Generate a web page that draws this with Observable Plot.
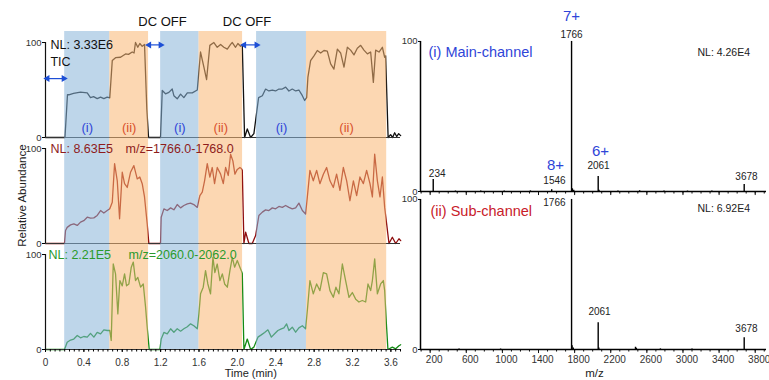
<!DOCTYPE html>
<html><head><meta charset="utf-8">
<script src="https://cdn.jsdelivr.net/npm/d3@7"></script>
<script src="https://cdn.jsdelivr.net/npm/@observablehq/plot@0.6"></script>
<style>
body{margin:0;background:#fff;font-family:"Liberation Sans",Arial,sans-serif;}
#wrap{position:relative;width:769px;height:380px;overflow:hidden;}
#left{position:absolute;left:0;top:0;}
#right{position:absolute;left:400px;top:0;}
</style></head>
<body><div id="wrap"><div id="left"></div><div id="right"></div></div>
<script>
// ---- chromatograms (time in min, relative abundance %) ----
const ticTime = [0,0.203,0.229,0.243,0.292,0.365,0.435,0.469,0.501,0.539,
 0.574,0.608,0.643,0.670,0.696,0.730,0.782,0.834,0.865,0.904,
 0.923,0.938,0.962,0.983,1.008,1.032,1.056,1.074,1.095,1.178,
 1.199,1.217,1.251,1.286,1.321,1.338,1.373,1.408,1.442,1.478,
 1.530,1.582,1.616,1.651,1.679,1.713,1.755,1.790,1.825,1.859,
 1.895,1.929,1.947,1.981,2.005,2.033,2.051,2.075,2.103,2.138,
 2.172,2.221,2.260,2.294,2.328,2.364,2.398,2.433,2.468,2.503,
 2.537,2.572,2.607,2.641,2.677,2.701,2.722,2.735,2.763,2.798,
 2.833,2.868,2.902,2.937,2.972,3.006,3.042,3.076,3.111,3.146,
 3.180,3.215,3.250,3.285,3.319,3.355,3.389,3.417,3.441,3.476,
 3.511,3.535,3.545,3.571,3.597,3.618,3.639,3.660,3.681,3.702];
const ticAbund = [0,0,45,45,46.5,47.7,47,42,43,41,
 42.6,41,42.6,41.8,81,84,84.5,88,87.5,90,
 89,100,95,99,96,98,30,0,0,0,
 0,49.5,46,47.5,51,44,40.7,45.7,42,47,
 47,50,90,74,61,97,100,95,98,95,
 93,98,100,95,99,96,98,0,9,0,
 4,42,44,51,49,50,49,51,51,53,
 49,51,49,50,44,39,42,63.5,81,86,
 91.6,89,91.6,91,77.5,72,93,89,74,95,
 92,87,94,97,92,88,90,58,92,90,
 95,84.5,86,0,3,0,5,1,4,2];

const m1766Time = [0,0.198,0.209,0.226,0.261,0.295,0.331,0.365,0.399,0.435,
 0.469,0.504,0.539,0.574,0.608,0.643,0.670,0.696,0.720,0.748,
 0.772,0.800,0.824,0.852,0.886,0.921,0.956,0.983,1.008,1.032,
 1.060,1.077,1.178,1.199,1.206,1.234,1.269,1.304,1.338,1.373,
 1.408,1.442,1.478,1.512,1.546,1.582,1.609,1.634,1.658,1.686,
 1.713,1.738,1.762,1.790,1.825,1.853,1.877,1.905,1.929,1.953,
 1.974,1.999,2.026,2.041,2.051,2.068,2.086,2.120,2.155,2.190,
 2.224,2.260,2.294,2.328,2.364,2.398,2.433,2.468,2.503,2.537,
 2.572,2.607,2.641,2.677,2.711,2.729,2.756,2.791,2.826,2.860,
 2.896,2.930,2.965,3.000,3.034,3.069,3.104,3.139,3.173,3.209,
 3.243,3.277,3.313,3.347,3.382,3.407,3.431,3.459,3.486,3.511,
 3.535,3.580,3.615,3.650,3.684,3.702];
const m1766Abund = [0,0,13.7,17,19.6,20.7,19,22.5,24,27.7,
 26.7,27,29.5,34.7,32,34.7,36.5,43.5,84,66,
 26,75,63,59,75,82,68,70,63,49,
 20.7,0,0,0,27.7,36.5,34.7,37.5,35.5,41,
 37.5,40,41.8,42.5,41,38,50.5,54,66,84,
 70,80,63,80,73,63,80,71.6,94,87,
 73,78,80,79,77,0,12,0,0,8.4,
 29.5,33,35.4,34.7,37.5,36.5,39,38,40,38,
 36.5,37.5,42.5,34.7,31,49,77,66,77,63,
 73,80,66,59,73,56,80,66,45,66,
 50.5,70,63,77,63,49,94,66,49,70,
 38,0,6.6,0,5,3];

const m2061Time = [0,0.198,0.226,0.261,0.295,0.331,0.365,0.399,0.435,0.469,
 0.504,0.539,0.574,0.608,0.643,0.670,0.685,0.706,0.730,0.754,
 0.775,0.800,0.824,0.845,0.869,0.894,0.915,0.938,0.962,0.991,
 1.019,1.043,1.060,1.081,1.178,1.192,1.206,1.234,1.269,1.304,
 1.338,1.373,1.408,1.442,1.478,1.512,1.546,1.582,1.599,1.616,
 1.644,1.668,1.692,1.720,1.745,1.765,1.790,1.818,1.843,1.867,
 1.895,1.922,1.947,1.971,1.999,2.026,2.041,2.051,2.068,2.103,
 2.138,2.172,2.214,2.249,2.284,2.318,2.354,2.388,2.422,2.458,
 2.485,2.513,2.537,2.572,2.607,2.641,2.677,2.711,2.729,2.756,
 2.791,2.826,2.860,2.896,2.930,2.965,3.000,3.027,3.058,3.094,
 3.128,3.163,3.198,3.233,3.267,3.302,3.337,3.361,3.389,3.407,
 3.431,3.459,3.493,3.521,3.535,3.553,3.569,3.615,3.650,3.684,
 3.702];
const m2061Abund = [0,0,7.7,10,11,14.7,12.3,13.7,13,17,
 13,18,16.5,20.7,20,20,9.5,90,79.6,37.5,
 72.6,67,79.6,67,69,86.7,92,72.6,76,65.6,
 69,44.6,23.5,0,0,0,11,18,16.5,21.8,
 18.2,21.8,19.3,21.8,24,27,25,21.8,37.5,58.6,
 65.6,83,69,58.6,97,81,90,72.6,79.6,69,
 65.6,83,97,86.7,93.7,86.7,83,80,0,11,
 0,2.5,13,15.4,18,20.7,13,16.5,20,21.8,
 22.8,27,20,23.5,18.2,22.8,25,21.8,41,72.6,
 58.6,69,62,81,79.6,62,55,65.6,58.6,90,
 72.6,55,60,53,50,51.6,50,69,62,72.6,
 95.4,58.6,69,72.6,62,27,0,2.5,0.7,4,
 5];

// phases: (i) main-channel, (ii) sub-channel
const phaseStart = [0.2, 0.67, 1.2, 1.6, 2.2, 2.72];
const phaseEnd   = [0.67, 1.074, 1.6, 2.054, 2.72, 3.556];
const phaseName  = ["(i)", "(ii)", "(i)", "(ii)", "(i)", "(ii)"];

// DC OFF intervals marked with double arrows
const dcOffStart = [0.02, 1.08, 2.07];
const dcOffEnd   = [0.19, 1.2, 2.2];

const timeTicks = [0, 0.4, 0.8, 1.2, 1.6, 2.0, 2.4, 2.8, 3.2, 3.6];

// ---- mass spectra (m/z, relative abundance %) ----
const mainMz  = [234, 480, 760, 1020, 1310, 1546, 1766, 1775, 1790, 2061, 2070, 2280, 2520, 2790, 3050, 3320, 3678];
const mainInt = [8, 0.3, 0.4, 0.3, 0.4, 1.2, 100, 1.8, 0.8, 10, 0.8, 0.4, 0.5, 0.4, 0.3, 0.4, 4.7];
const subMz   = [520, 980, 1766, 1772, 1785, 2061, 2068, 2474, 2484, 2750, 3100, 3678];
const subInt  = [0.3, 0.3, 100, 2.5, 1, 17.8, 1, 1.5, 0.8, 0.4, 0.3, 7.8];
const mzTicks = [200, 600, 1000, 1400, 1800, 2200, 2600, 3000, 3400, 3800];

// ---------------- build tables ----------------
const chrom = [
  ...ticTime.map((t, i) => ({panel: "tic", t, v: ticAbund[i]})),
  ...m1766Time.map((t, i) => ({panel: "m1766", t, v: m1766Abund[i]})),
  ...m2061Time.map((t, i) => ({panel: "m2061", t, v: m2061Abund[i]}))
];
const phases = phaseStart.map((s, i) => ({start: s, end: phaseEnd[i], name: phaseName[i]}));
const dcOff = dcOffStart.map((s, i) => ({start: s, end: dcOffEnd[i], lvl: i === 0 ? 62 : 97.5}));
const spec = [
  ...mainMz.map((m, i) => ({ch: "main", mz: m, v: mainInt[i]})),
  ...subMz.map((m, i) => ({ch: "sub", mz: m, v: subInt[i]}))
];

const FONT = "Liberation Sans, Arial, Helvetica, sans-serif";
const BLUE_T = "#2f45d8", RED_T = "#d9512c";
const yTop = 111.6;
function note(panel, txt, x, y, o = {}) {
  return Plot.text([txt], {fy: () => panel, x: () => x, y: () => y, text: d => d, fontSize: 12.5, ...o});
}
const arrowColor = "#1d4fd6";

const left = Plot.plot({
  width: 400, height: 380,
  marginLeft: 45, marginRight: 0, marginTop: 31, marginBottom: 31,
  style: {fontFamily: FONT, background: "transparent", overflow: "visible"},
  x: {domain: [0, 3.7]},
  y: {domain: [0, yTop]},
  fy: {domain: ["tic", "m1766", "m2061"], padding: 0, axis: null, label: null},
  marks: [
    Plot.line(chrom.filter(d => d.panel === "tic"), {x: "t", y: "v", fy: "panel", stroke: "#111", strokeWidth: 1.3}),
    Plot.line(chrom.filter(d => d.panel === "m1766"), {x: "t", y: "v", fy: "panel", stroke: "#8e0d0d", strokeWidth: 1.3}),
    Plot.line(chrom.filter(d => d.panel === "m2061"), {x: "t", y: "v", fy: "panel", stroke: "#138a13", strokeWidth: 1.3}),
    Plot.ruleY([0], {stroke: "#333", strokeWidth: 1}),
    Plot.ruleX([0], {y1: 0, y2: 100, stroke: "#111", strokeWidth: 1.2}),
    Plot.rect(phases.filter(d => d.name === "(i)"), {x1: "start", x2: "end", y1: 0, y2: yTop, fill: "#89b4d9", fillOpacity: 0.55}),
    Plot.rect(phases.filter(d => d.name === "(ii)"), {x1: "start", x2: "end", y1: 0, y2: yTop, fill: "#f9b673", fillOpacity: 0.55}),
    Plot.text(phases.filter(d => d.name === "(i)"), {fy: () => "tic", x: d => (d.start + d.end) / 2, y: () => 10.5, text: "name", fill: BLUE_T, fontSize: 13}),
    Plot.text(phases.filter(d => d.name === "(ii)"), {fy: () => "tic", x: d => (d.start + d.end) / 2, y: () => 10.5, text: "name", fill: RED_T, fontSize: 13}),
    // DC OFF arrows
    Plot.link(dcOff, {fy: () => "tic", x1: "start", x2: "end", y1: "lvl", y2: "lvl", stroke: arrowColor, strokeWidth: 1.2}),
    Plot.dot(dcOff, {fy: () => "tic", x: "start", y: "lvl", symbol: "triangle", rotate: -90, r: 2.6, fill: arrowColor, stroke: "none"}),
    Plot.dot(dcOff, {fy: () => "tic", x: "end", y: "lvl", symbol: "triangle", rotate: 90, r: 2.6, fill: arrowColor, stroke: "none"}),
    note("tic", "DC OFF", 1.22, 122, {fontSize: 13, fill: "#111"}),
    note("tic", "DC OFF", 2.10, 122, {fontSize: 13, fill: "#111"}),
    note("tic", "NL: 3.33E6", 0.052, 97, {textAnchor: "start", fill: "#111"}),
    note("tic", "TIC", 0.052, 79, {textAnchor: "start", fill: "#111"}),
    note("m1766", "NL: 8.63E5", 0.052, 100, {textAnchor: "start", fill: "#8e1c1c"}),
    note("m1766", "m/z=1766.0-1768.0", 0.835, 100, {textAnchor: "start", fill: "#8e1c1c"}),
    note("m2061", "NL: 2.21E5", 0.031, 100, {textAnchor: "start", fill: "#2b9a2b"}),
    note("m2061", "m/z=2060.0-2062.0", 0.866, 100, {textAnchor: "start", fill: "#2b9a2b"}),
    note("m1766", "Relative Abundance", 0, 50.5, {rotate: -90, dx: -23, fontSize: 11.5, fill: "#222"}),
    note("m2061", "Time (min)", 2.14, 0, {dy: 24, fontSize: 11, fill: "#222"}),
    // axes
    Plot.axisY([0, 100], {tickSize: 3, tickPadding: 1, fontSize: 9.5, label: null, fill: "#333"}),
    Plot.axisX(d3.range(0, 3.701, 0.05), {tickSize: 2.5, tickFormat: () => "", label: null}),
    Plot.axisX(timeTicks, {tickSize: 3, fontSize: 10, label: null, fill: "#333", tickFormat: d => d === 0 ? "0" : d.toFixed(1)})
  ]
});
document.getElementById("left").append(left);

const mzDomain = [93, 3925];
function snote(panel, txt, x, y, o = {}) {
  return Plot.text([txt], {fy: () => panel, x: () => x, y: () => y, text: d => d, fontSize: 10, fill: "#222", ...o});
}
const right = Plot.plot({
  width: 369, height: 380,
  marginLeft: 20, marginRight: 3, marginTop: 33, marginBottom: 31,
  style: {fontFamily: FONT, background: "transparent", overflow: "visible"},
  x: {domain: mzDomain, axis: null},
  y: {domain: [0, 105.3]},
  fy: {domain: ["main", "sub"], padding: 0, axis: null, label: null},
  marks: [
    Plot.ruleX(d3.range(100, 3901, 100), {y1: 0, y2: -1.7, stroke: "#111", strokeWidth: 1}),
    Plot.ruleX(mzTicks, {y1: 0, y2: -2.7, stroke: "#111", strokeWidth: 1}),
    Plot.ruleY([0], {stroke: "#000", strokeWidth: 1.3}),
    Plot.ruleX([mzDomain[0]], {y1: 0, y2: 100, stroke: "#000", strokeWidth: 1.5}),
    Plot.ruleX(spec, {x: "mz", y1: 0, y2: "v", fy: "ch", stroke: "#000", strokeWidth: 1.4}),
    Plot.text(mzTicks, {fy: () => "sub", x: d => d, y: () => 0, dy: 10.5, dx: 4, text: d => String(d), fontSize: 10, fill: "#333"}),
    Plot.axisY([0, 100], {tickSize: 2, tickPadding: 1, fontSize: 9.5, label: null, fill: "#333"}),
    // main-channel annotations
    snote("main", "7+", 1766, 116.7, {fontSize: 15, fill: BLUE_T}),
    snote("main", "1766", 1766, 104.7),
    snote("main", "8+", 1588, 17.3, {fontSize: 15, fill: BLUE_T}),
    snote("main", "1546", 1577, 7),
    snote("main", "6+", 2087, 26.7, {fontSize: 15, fill: BLUE_T}),
    snote("main", "2061", 2065, 17.3),
    snote("main", "234", 278, 11.5),
    snote("main", "3678", 3703, 10),
    snote("main", "(i) Main-channel", 182, 92.7, {fontSize: 14.5, fill: BLUE_T, textAnchor: "start"}),
    snote("main", "NL: 4.26E4", 3161, 92.7, {fontSize: 10.5, textAnchor: "start"}),
    // sub-channel annotations
    snote("sub", "(ii) Sub-channel", 204, 92, {fontSize: 14.5, fill: "#c8202a", textAnchor: "start"}),
    snote("sub", "1766", 1699, 97.8, {textAnchor: "end"}),
    snote("sub", "NL: 6.92E4", 3161, 94, {fontSize: 10.5, textAnchor: "start"}),
    snote("sub", "2061", 2076, 25),
    snote("sub", "3678", 3703, 13.9),
    snote("sub", "m/z", 2019, 0, {dy: 24, fontSize: 11.5})
  ]
});
document.getElementById("right").append(right);
</script>
</body></html>
